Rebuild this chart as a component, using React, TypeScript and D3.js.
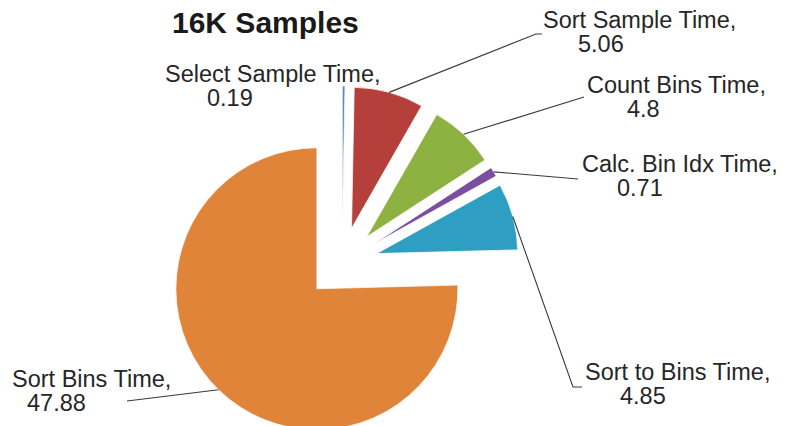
import React from "react";
import * as d3 from "d3";

const categories = [
  "Select Sample Time",
  "Sort Sample Time",
  "Count Bins Time",
  "Calc. Bin Idx Time",
  "Sort to Bins Time",
  "Sort Bins Time",
];
const values = [0.19, 5.06, 4.8, 0.71, 4.85, 47.88];
const valueLabels = ["0.19", "5.06", "4.8", "0.71", "4.85", "47.88"];
const colors = ["#5a8ab5", "#b5403b", "#8db241", "#7b4fa0", "#2e9fc2", "#e0843a"];
const title = "16K Samples";

// label layout: first line x/baseline, second line indent, leader end points (null = no leader)
const labelLayout: { x: number; y: number; dx2: number; leader: [number, number][] | null }[] = [
  { x: 165, y: 82, dx2: 42, leader: null },
  { x: 543, y: 28, dx2: 35, leader: [[536, 34], [542, 34]] },
  { x: 587, y: 93, dx2: 40, leader: [[584, 97]] },
  { x: 582, y: 172, dx2: 35, leader: [[578, 179]] },
  { x: 585, y: 380, dx2: 35, leader: [[573, 387], [582, 387]] },
  { x: 12, y: 387, dx2: 15, leader: [[127, 401]] },
];

const W = 786;
const H = 426;
const CX = 342;
const CY = 263;
const R = 141;
const EXPLODE = 36;

export default function App() {
  const pie = d3
    .pie<number>()
    .sort(null)
    .value((d) => d)
    .startAngle(0)
    .endAngle(2 * Math.PI);
  const arcs = pie(values);
  const arcGen = d3.arc<d3.PieArcDatum<number>>().innerRadius(0).outerRadius(R);
  const font = "'Liberation Sans', Arial, sans-serif";
  const fs = 23.5;

  return (
    <svg
      width={W}
      height={H}
      viewBox={`0 0 ${W} ${H}`}
      style={{ position: "absolute", left: 0, top: 0, background: "#fff" }}
    >
      <text x={172} y={33} fontFamily={font} fontWeight="bold" fontSize={30} fill="#1a1a1a">
        {title}
      </text>
      {arcs.map((a, i) => {
        const mid = (a.startAngle + a.endAngle) / 2;
        const ox = CX + EXPLODE * Math.sin(mid);
        const oy = CY - EXPLODE * Math.cos(mid);
        return (
          <g key={"s" + i} transform={`translate(${ox},${oy})`}>
            <path d={arcGen(a) || ""} fill={colors[i]} stroke="#fff" strokeWidth={0.7} />
          </g>
        );
      })}
      {arcs.map((a, i) => {
        const L = labelLayout[i];
        const mid = (a.startAngle + a.endAngle) / 2;
        const ox = CX + EXPLODE * Math.sin(mid);
        const oy = CY - EXPLODE * Math.cos(mid);
        const sx = ox + R * Math.sin(mid);
        const sy = oy - R * Math.cos(mid);
        const pts: [number, number][] = L.leader ? [[sx, sy], ...L.leader] : [];
        return (
          <g key={"l" + i}>
            {L.leader && (
              <path
                d={d3.line()(pts) || ""}
                fill="none"
                stroke="#3a3a3a"
                strokeWidth={1.1}
              />
            )}
            <text x={L.x} y={L.y} fontFamily={font} fontSize={fs} fill="#262626">
              {categories[i] + ","}
            </text>
            <text x={L.x + L.dx2} y={L.y + 24} fontFamily={font} fontSize={fs} fill="#262626">
              {valueLabels[i]}
            </text>
          </g>
        );
      })}
    </svg>
  );
}
